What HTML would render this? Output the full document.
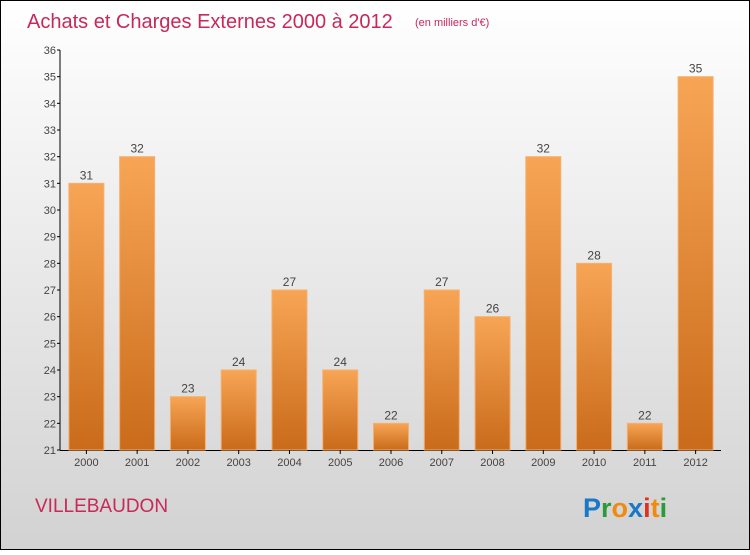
<!DOCTYPE html>
<html><head><meta charset="utf-8"><style>
body{margin:0}
#c{width:750px;height:550px;position:relative;font-family:"Liberation Sans",sans-serif;}
</style></head><body>
<div id="c">
<svg id="s" width="750" height="550" xmlns="http://www.w3.org/2000/svg">
<defs>
<linearGradient id="bg" x1="0" y1="0" x2="0" y2="1"><stop offset="0" stop-color="#ffffff"/><stop offset="1" stop-color="#d2d2d2"/></linearGradient>
<linearGradient id="bar" x1="0" y1="0" x2="0" y2="1"><stop offset="0" stop-color="#f7a555"/><stop offset="1" stop-color="#c96b1a"/></linearGradient>
</defs>
<rect x="0.5" y="0.5" width="749" height="549" fill="url(#bg)" stroke="#000"/>
<text x="27" y="28" font-size="20" fill="#c8285a">Achats et Charges Externes 2000 à 2012</text>
<text x="415" y="26" font-size="11" fill="#c8285a">(en milliers d'€)</text>
<text x="35" y="512" font-size="19" fill="#c8285a">VILLEBAUDON</text>
<g font-size="27" font-weight="bold" font-family="Liberation Sans, sans-serif">
<text x="583" y="517"><tspan fill="#1a78c8">P</tspan><tspan fill="#2a9a3a">r</tspan><tspan fill="#f08a10">o</tspan><tspan fill="#1a78c8">x</tspan><tspan fill="#e03020">i</tspan><tspan fill="#f08a10">t</tspan><tspan fill="#2a9a3a">i</tspan></text>
</g>
<g id="plot"></g>
</svg>
</div>
<script>
const categories=["2000","2001","2002","2003","2004","2005","2006","2007","2008","2009","2010","2011","2012"];
const values=[31,32,23,24,27,24,22,27,26,32,28,22,35];
const yTicks=[21,22,23,24,25,26,27,28,29,30,31,32,33,34,35,36];
const ns="http://www.w3.org/2000/svg";
const g=document.getElementById('plot');
const x0=61,x1=721,yMin=21,yMax=36,py0=450,py1=50;
const y=v=>py0-(v-yMin)/(yMax-yMin)*(py0-py1);
const step=(x1-x0)/categories.length;
const xc=i=>x0+step*(i+0.5);
function mk(t,a){const e=document.createElementNS(ns,t);for(const k in a)e.setAttribute(k,a[k]);g.appendChild(e);return e;}
let ax=mk('line',{x1:x0-1,y1:py1,x2:x0-1,y2:py0,stroke:'#000'});


let bx=mk('line',{x1:x0-1,y1:py0+0.5,x2:x1,y2:py0+0.5,stroke:'#000'});


yTicks.forEach(v=>{
 const tk=mk('line',{x1:x0-4,y1:y(v),x2:x0-1,y2:y(v),stroke:'#000'});
 
 
 const t=mk('text',{x:x0-5,y:y(v)+4,'font-size':11,fill:'#444','text-anchor':'end'});
 t.textContent=v;
 
 
});
categories.forEach((c,i)=>{
 const v=values[i];
 const r=mk('rect',{x:xc(i)-17.5,y:y(v),width:35,height:py0-y(v),fill:'url(#bar)',stroke:'#f5b070','stroke-width':1});
 
 
 const vl=mk('text',{x:xc(i),y:y(v)-4,'font-size':12,fill:'#444','text-anchor':'middle'});
 vl.textContent=v;
 
 
 const tk=mk('line',{x1:xc(i),y1:py0,x2:xc(i),y2:py0+4,stroke:'#000'});
 
 
 const xl=mk('text',{x:xc(i),y:py0+16,'font-size':11,fill:'#444','text-anchor':'middle'});
 xl.textContent=c;
 
 
});
</script>
</body></html>
